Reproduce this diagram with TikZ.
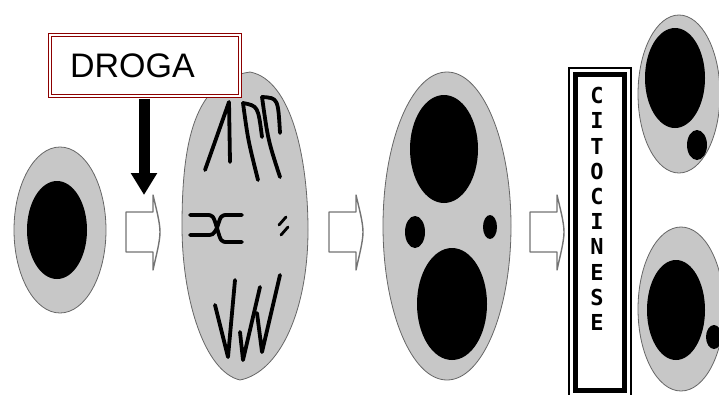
\documentclass[tikz,border=0pt]{standalone}
\usepackage{fontspec}
\newfontfamily\drogafont{Liberation Sans}
\newfontfamily\citofont{DejaVu Sans Mono}
\usetikzlibrary{arrows.meta}
\tikzset{
  cell/.style={fill=black!22,draw=black!60,line width=.8pt},
  nucl/.style={fill=black},
  chromo/.style={line width=3.8pt,line cap=round,line join=round},
  blockarrow/.style={draw=black!55,line width=1.4pt,fill=white,line join=round},
  drogabox/.style={draw=red!55!black,double=white,double distance=2.5pt,line width=1.1pt,
    fill=white,minimum width=190pt,minimum height=61pt,text width=150pt,align=left,
    inner xsep=20pt,font=\drogafont\fontsize{34}{34}\selectfont},
  drugarrow/.style={line width=11pt,shorten <=2pt,-{Triangle[length=22pt,width=25pt]}},
}
\begin{document}
\begin{tikzpicture}[x=1pt,y=-1pt]
  \useasboundingbox (0,0) rectangle (719,394);
  \clip (0,0) rectangle (719,394);
  % Первая клетка
  \draw[cell] (60,230) ellipse [x radius=46,y radius=83];
  \fill[nucl] (57,230) ellipse [x radius=30,y radius=49];
  % Стрелки между клетками
  \foreach \x in {126,329,530}{
    \draw[blockarrow] (\x,212) -- (\x+27,212) -- (\x+27,195)
      .. controls (\x+30,208) and (\x+34,222) .. (\x+34,232)
      .. controls (\x+34,242) and (\x+30,256) .. (\x+27,270)
      -- (\x+27,252) -- (\x,252) -- cycle;}
  % Вторая клетка
  \draw[cell] (250,72) .. controls (292,80) and (308,160) .. (308,230)
    .. controls (308,310) and (280,372) .. (240,380)
    .. controls (205,372) and (182,300) .. (182,226)
    .. controls (182,140) and (195,80) .. (250,72) -- cycle;
  \draw[chromo] (205,170) -- (229,102) -- (230,162);
  \draw[chromo] (243,103) .. controls (248,140) .. (258,180);
  \draw[chromo] (243,103) .. controls (258,106) .. (262,137);
  \draw[chromo] (262,97) .. controls (268,140) .. (280,177);
  \draw[chromo] (262,97) .. controls (278,98) .. (280,133);
  \draw[chromo] (190,215) -- (206,215) .. controls (213,215) .. (217,228)
    .. controls (213,235) .. (206,235) -- (190,235);
  \draw[chromo] (242,215) -- (228,215) .. controls (221,215) .. (217,228)
    .. controls (221,242) .. (228,242) -- (242,242);
  \draw[chromo,line width=2.8pt] (279,225) -- (286,217);
  \draw[chromo,line width=2.8pt] (281,235) -- (288,227);
  \draw[chromo] (215,305) -- (228,357) -- (235,280);
  \draw[chromo] (240,332) -- (243,360) -- (260,287);
  \draw[chromo] (257,313) -- (262,352) -- (280,275);
  % Препарат
  \node[drogabox] (droga) at (145,65.5) {DROGA};
  \coordinate (hit) at (144,195);
  \draw[drugarrow] (droga.south -| hit) -- (hit);
  % Третья клетка
  \draw[cell] (447,226) ellipse [x radius=64,y radius=154];
  \fill[nucl] (444,149) ellipse [x radius=34,y radius=54];
  \fill[nucl] (452,304) ellipse [x radius=35,y radius=56];
  \fill[nucl] (415,232) ellipse [x radius=10,y radius=16];
  \fill[nucl] (490,227) ellipse [x radius=7,y radius=12];
  % Цитокинез
  \draw[line width=1.2pt,fill=white] (569,68) rectangle (631,400);
  \draw[line width=5pt] (575.5,74.5) rectangle (624.5,390.5);
  \node[align=center,inner sep=0pt,font=\citofont\bfseries\fontsize{22}{25.2}\selectfont]
    (cito) at (597,209) {C\\I\\T\\O\\C\\I\\N\\E\\S\\E};
  % Дочерние клетки
  \draw[cell] (679,94) ellipse [x radius=41,y radius=79];
  \fill[nucl] (675,78) ellipse [x radius=30,y radius=50];
  \fill[nucl] (697,145) ellipse [x radius=10,y radius=15];
  \draw[cell] (681,309) ellipse [x radius=43,y radius=82];
  \fill[nucl] (676,310) ellipse [x radius=29,y radius=50];
  \fill[nucl] (714,337) ellipse [x radius=8,y radius=12];
\end{tikzpicture}
\end{document}
